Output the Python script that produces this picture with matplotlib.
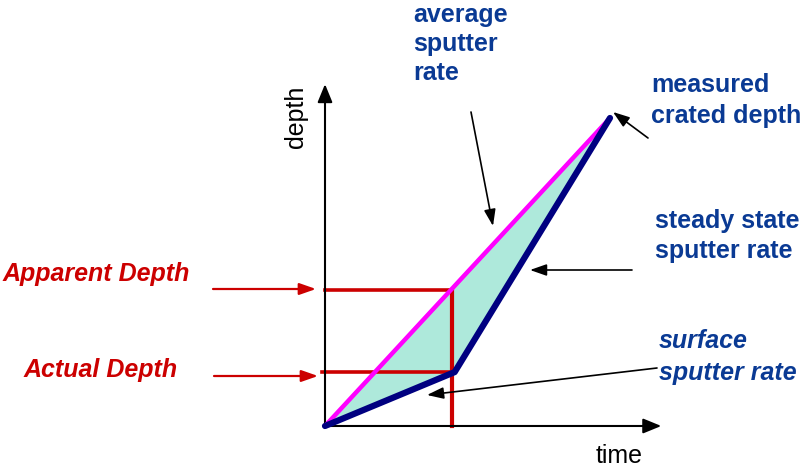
import matplotlib.pyplot as plt
from matplotlib.patches import Polygon

plt.rcParams['font.family'] = ['Liberation Sans', 'DejaVu Sans']

# depth profile: time vs depth (arbitrary units)
time_avg = [0.0, 10.0]          # average sputter rate line
depth_avg = [0.0, 10.0]
time_real = [0.0, 4.55, 10.0]   # surface rate, then steady state rate
depth_real = [0.0, 1.75, 10.0]

t_mark = 4.45          # time of the red marker line
apparent_depth = 4.42
actual_depth = 1.75

blue = '#0a3a94'
red = '#cc0000'

fig = plt.figure(figsize=(8.1, 4.68), dpi=100)
ax = fig.add_axes([0, 0, 1, 1])
ax.set_xlim(-11.404, 17.018)
ax.set_ylim(-1.364, 13.831)
ax.axis('off')

def P(x, y):
    # pixel position -> figure fraction (layout helper for labels/arrows)
    return (x / 810, 1 - y / 468)

# axes with arrow heads
ax_arrow = dict(arrowstyle='-|>,head_length=1.1,head_width=0.45',
                color='black', lw=1.5, shrinkA=0, shrinkB=0)
ax.annotate('', xy=(0, 11.1), xytext=(0, -0.05), arrowprops=ax_arrow)
ax.annotate('', xy=(11.8, 0), xytext=(-0.05, 0), arrowprops=ax_arrow)

# shaded area between the two profiles
poly = list(zip(time_avg, depth_avg)) + list(zip(time_real[::-1], depth_real[::-1]))
ax.add_patch(Polygon(poly, closed=True, facecolor='#aee9db', edgecolor='none', zorder=1))

# red marker lines
ax.plot([0, t_mark], [apparent_depth, apparent_depth], color=red, lw=2.6, zorder=2)
ax.plot([-0.1, 4.55], [actual_depth, actual_depth], color=red, lw=2.6, zorder=2)
ax.plot([t_mark, t_mark], [0, apparent_depth], color=red, lw=3.0, zorder=2)

ax.plot(time_avg, depth_avg, color='#ff00ff', lw=3.2, solid_capstyle='round', zorder=3)
ax.plot(time_real, depth_real, color='#000080', lw=4.5, solid_capstyle='round',
        solid_joinstyle='round', zorder=4)

# axis labels
fig.text(*P(619, 463), 'time', fontsize=18, ha='center', va='baseline')
fig.text(*P(296, 117), 'depth', fontsize=18, rotation=90, ha='center', va='center')

# red labels + arrows
red_arrow = dict(arrowstyle='-|>,head_length=1.0,head_width=0.35', color=red, lw=1.6,
                 shrinkA=0, shrinkB=0)
fig.text(*P(3, 281), 'Apparent Depth', fontsize=18, color=red, fontweight='bold',
         fontstyle='italic', va='baseline')
fig.text(*P(24, 377), 'Actual Depth', fontsize=18, color=red, fontweight='bold',
         fontstyle='italic', va='baseline')
ax.annotate('', xy=P(316, 289), xytext=P(213, 289), xycoords='figure fraction',
            textcoords='figure fraction', arrowprops=red_arrow)
ax.annotate('', xy=P(318, 376), xytext=P(214, 376), xycoords='figure fraction',
            textcoords='figure fraction', arrowprops=red_arrow)

# blue labels
txt = dict(fontsize=18, color=blue, fontweight='bold', va='baseline')
fig.text(*P(413, 22), 'average', **txt)
fig.text(*P(413, 51), 'sputter', **txt)
fig.text(*P(413, 80), 'rate', **txt)
fig.text(*P(651, 92), 'measured', **txt)
fig.text(*P(651, 123), 'crated depth', **txt)
fig.text(*P(655, 228), 'steady state', **txt)
fig.text(*P(655, 258), 'sputter rate', **txt)
fig.text(*P(659, 348), 'surface', fontstyle='italic', **txt)
fig.text(*P(659, 380), 'sputter rate', fontstyle='italic', **txt)

# black pointer arrows
blk = dict(arrowstyle='-|>,head_length=1.0,head_width=0.35', color='black', lw=1.2,
           shrinkA=0, shrinkB=0)
for tail, head in [((471, 112), (493, 226)),
                   ((648, 138), (613, 112)),
                   ((632, 270), (530, 270)),
                   ((657, 368), (427, 395))]:
    ax.annotate('', xy=P(*head), xytext=P(*tail), xycoords='figure fraction',
                textcoords='figure fraction', arrowprops=blk)

fig.savefig('out.png', dpi=100)
